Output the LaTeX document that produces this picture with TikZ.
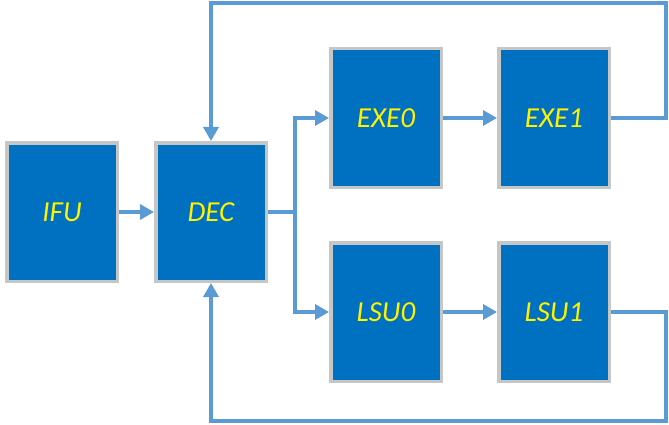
\documentclass[tikz,border=0pt]{standalone}
\usepackage{fontspec}
\setmainfont{Carlito}
\usetikzlibrary{positioning,arrows.meta}
\definecolor{unitblue}{HTML}{0070C0}
\definecolor{unitgray}{HTML}{C6C6C6}
\definecolor{wireblue}{HTML}{5B9BD5}

\begin{document}
\begin{tikzpicture}[
        x=1pt, y=-1pt,
        unit/.style={rectangle, draw=unitgray, fill=unitblue, line width=3.5pt,
            minimum width=110.5pt, minimum height=138.5pt, inner sep=0pt,
            text=yellow, font=\itshape\fontsize{29}{30}\selectfont},
        wire/.style={draw=wireblue, line width=3.3pt, -{Triangle[length=14pt,width=15pt]}}
    ]
        \useasboundingbox (0,0) rectangle (669,425);

        % Nodes
        \node[unit] (ifu) at (62,212) {IFU};
        \node[unit, right=35pt of ifu] (dec) {DEC};
        \node[unit] (exe0) at (386,118) {EXE0};
        \node[unit, right=54pt of exe0] (exe1) {EXE1};
        \node[unit, below=52pt of exe0] (lsu0) {LSU0};
        \node[unit, right=54pt of lsu0] (lsu1) {LSU1};
        \coordinate (topright) at (666,3);
        \coordinate (botright) at (666,421);

        % Edges
        \draw[wire] (ifu) -- (dec);
        \draw[wire] (dec.east) -- ++(27,0) coordinate (fork) |- (exe0.west);
        \draw[wire] (fork) |- (lsu0.west);
        \draw[wire] (exe0) -- (exe1);
        \draw[wire] (lsu0) -- (lsu1);
        \draw[wire] (exe1.east) -| (topright) -| (dec.north);
        \draw[wire] (lsu1.east) -| (botright) -| (dec.south);
    \end{tikzpicture}
\end{document}
